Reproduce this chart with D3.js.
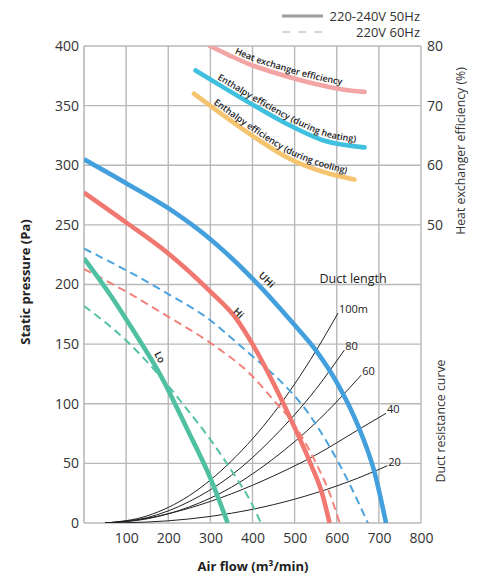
<!DOCTYPE html>
<html>
<head>
<meta charset="utf-8">
<script src="https://cdn.jsdelivr.net/npm/d3@7/dist/d3.min.js"></script>
<style>
  body { margin: 0; background: #fff; }
  text { font-family: 'Open Sans', 'DejaVu Sans', sans-serif; }
</style>
</head>
<body>
<div id="chart"></div>
<script>
// fan curves: [air flow (m3/min), static pressure (Pa)]
const uhi50 = [[0,305],[100,285],[200,264],[300,238],[400,205],[500,166],[550,145],[600,118],[650,82],[690,42],[717,0]];
const hi50  = [[0,277],[100,252],[200,226],[300,194],[360,172],[400,150],[450,117],[500,80],[540,48],[565,25],[583,0]];
const lo50  = [[0,222],[65,190],[116,162],[183,123],[246,78],[302,36],[341,0]];
const uhi60 = [[0,230],[100,212],[200,192],[300,170],[357,153],[393,142],[472,117],[520,98],[583,64],[630,33],[674,0]];
const hi60  = [[0,213],[100,194],[200,173],[300,151],[400,123],[450,103],[496,84],[551,50],[583,25],[607,0]];
const lo60  = [[0,182],[100,153],[183,122],[250,93],[300,70],[350,44],[400,15],[420,0]];

// efficiency curves: [air flow, efficiency %]
const heatEff    = [[299,80],[346,78.4],[401,76.7],[449,75.6],[528,74.0],[607,72.8],[666,72.3]];
const enthHeat   = [[265,75.9],[330,73.1],[409,69.8],[488,66.7],[567,64.2],[666,63]];
const enthCool   = [[261,72],[330,68.4],[409,64.5],[488,61.1],[567,58.9],[642,57.6]];

// duct resistance curves: [air flow, static pressure]
const ductNames = ['100m', '80', '60', '40', '20'];
const duct100 = [[50,0],[150,6],[250,23],[350,52],[450,92],[550,144],[603,176]];
const duct80  = [[50,0],[150,4.5],[250,18],[350,40],[450,72],[550,112],[618,145]];
const duct60  = [[50,0],[150,3.5],[250,13.5],[350,30],[450,54],[550,84],[658,124]];
const duct40  = [[50,0],[150,4],[250,12.5],[350,24.5],[450,39.5],[550,57],[650,78],[717,92]];
const duct20  = [[50,0],[150,0.8],[250,3.4],[350,8.2],[450,15.4],[550,25.2],[650,37.6],[720,48]];

// fan speed label anchors [air flow, pressure]
const speedLabels = [['UHi', 434, 204], ['Hi', 367, 176], ['Lo', 180, 139]];

const xTicks = [100, 200, 300, 400, 500, 600, 700, 800];
const yTicks = [0, 50, 100, 150, 200, 250, 300, 350, 400];
const effTicks = [50, 60, 70, 80];

const W = 485, H = 576;
const margin = { top: 46, right: 64, bottom: 53, left: 84 };
const width = W - margin.left - margin.right;
const height = H - margin.top - margin.bottom;

const svg = d3.select('#chart').append('svg')
  .attr('width', W).attr('height', H);

const g = svg.append('g').attr('transform', `translate(${margin.left},${margin.top})`);

const x = d3.scaleLinear().domain([0, 800]).range([0, width]);
const y = d3.scaleLinear().domain([0, 400]).range([height, 0]);
const yR = d3.scaleLinear().domain([0, 80]).range([height, 0]);

svg.append('defs').append('clipPath').attr('id', 'plot-clip')
  .append('rect').attr('width', width).attr('height', height);

// grid
const gridColor = '#b8b8b8';
g.append('g').selectAll('line').data(xTicks).enter().append('line')
  .attr('x1', d => x(d)).attr('x2', d => x(d))
  .attr('y1', 0).attr('y2', height)
  .attr('stroke', gridColor).attr('stroke-width', 1.4);
g.append('g').selectAll('line').data(yTicks.filter(d => d > 0)).enter().append('line')
  .attr('x1', 0).attr('x2', width)
  .attr('y1', d => y(d)).attr('y2', d => y(d))
  .attr('stroke', gridColor).attr('stroke-width', 1.4);
// frame: left and bottom
g.append('line').attr('x1', 0).attr('x2', 0).attr('y1', 0).attr('y2', height)
  .attr('stroke', gridColor).attr('stroke-width', 1.6);
g.append('line').attr('x1', 0).attr('x2', width).attr('y1', height).attr('y2', height)
  .attr('stroke', gridColor).attr('stroke-width', 1.6);

// axes
const styleAxis = sel => {
  sel.select('.domain').remove();
  sel.selectAll('text').attr('fill', '#333').style('font-size', '14px')
    .style('font-family', "'Open Sans', sans-serif");
};
g.append('g').call(d3.axisLeft(y).tickValues(yTicks).tickSize(0).tickPadding(5)).call(styleAxis);
g.append('g').attr('transform', `translate(0,${height})`)
  .call(d3.axisBottom(x).tickValues(xTicks).tickSize(0).tickPadding(10)).call(styleAxis);
g.append('g').attr('transform', `translate(${width},0)`)
  .call(d3.axisRight(yR).tickValues(effTicks).tickSize(0).tickPadding(6)).call(styleAxis);

// lines
const line = d3.line().x(d => x(d[0])).y(d => y(d[1])).curve(d3.curveMonotoneX);
const lineR = d3.line().x(d => x(d[0])).y(d => yR(d[1])).curve(d3.curveMonotoneX);

const plot = g.append('g').attr('clip-path', 'url(#plot-clip)');

// duct resistance curves
const ducts = [duct100, duct80, duct60, duct40, duct20];
ducts.forEach(function(d) {
  plot.append('path').attr('d', line(d))
    .attr('fill', 'none').attr('stroke', '#222').attr('stroke-width', 1);
});

// 60Hz dashed
const dashed = [[uhi60, '#4ba3de'], [hi60, '#f1837b'], [lo60, '#55c2a6']];
dashed.forEach(function(s) {
  plot.append('path').attr('d', line(s[0]))
    .attr('fill', 'none').attr('stroke', s[1]).attr('stroke-width', 2)
    .attr('stroke-dasharray', '8,5');
});

// 50Hz solid
const solid = [[uhi50, '#44a0dc'], [hi50, '#f07870'], [lo50, '#50c0a2']];
solid.forEach(function(s) {
  plot.append('path').attr('d', line(s[0]))
    .attr('fill', 'none').attr('stroke', s[1]).attr('stroke-width', 4.6);
});

// efficiency curves, labels follow the curve
const effs = [
  [heatEff, '#f3a5a5', 'Heat exchanger efficiency', 'p-heat', 27],
  [enthHeat, '#3fc0de', 'Enthalpy efficiency (during heating)', 'p-enth-h', 25],
  [enthCool, '#f6c46e', 'Enthalpy efficiency (during cooling)', 'p-enth-c', 24]
];
const defs = svg.select('defs');
const lineLabel = d3.line().x(d => x(d[0]) + margin.left).y(d => yR(d[1]) + margin.top - 4.5)
  .curve(d3.curveMonotoneX);
effs.forEach(function(s) {
  plot.append('path').attr('d', lineR(s[0]))
    .attr('fill', 'none').attr('stroke', s[1]).attr('stroke-width', 4.6)
    .attr('stroke-linecap', 'round');
  defs.append('path').attr('id', s[3]).attr('d', lineLabel(s[0]));
  svg.append('text')
    .style('font-size', '9px').style('font-weight', 600).attr('fill', '#222')
    .append('textPath').attr('href', '#' + s[3]).attr('startOffset', s[4])
    .text(s[2]);
});

// fan speed labels
const angles = { UHi: 45, Hi: 45, Lo: 62 };
speedLabels.forEach(function(l) {
  g.append('text')
    .attr('transform', `translate(${x(l[1])},${y(l[2])}) rotate(${angles[l[0]]})`)
    .attr('text-anchor', 'middle').attr('dy', '0.35em')
    .style('font-size', '10px').style('font-weight', 600).attr('fill', '#222')
    .text(l[0]);
});

// duct length labels at curve ends
ducts.forEach(function(d, i) {
  const last = d[d.length - 1];
  g.append('text')
    .attr('x', x(last[0]) + 1).attr('y', y(last[1]))
    .style('font-size', '11px').attr('fill', '#222')
    .text(ductNames[i]);
});
g.append('text')
  .attr('x', x(559)).attr('y', y(201))
  .style('font-size', '12.5px').attr('fill', '#222')
  .text('Duct length');

// axis titles
svg.append('text')
  .attr('transform', 'translate(25,282) rotate(-90)')
  .attr('text-anchor', 'middle').attr('dy', '0.35em')
  .style('font-size', '13px').style('font-weight', 'bold').attr('fill', '#222')
  .text('Static pressure (Pa)');
svg.append('text')
  .attr('x', 253).attr('y', 571)
  .attr('text-anchor', 'middle')
  .style('font-size', '13px').style('font-weight', 'bold').attr('fill', '#222')
  .text('Air flow (m³/min)');
svg.append('text')
  .attr('transform', 'translate(461,151) rotate(-90)')
  .attr('text-anchor', 'middle').attr('dy', '0.35em')
  .style('font-size', '12.3px').attr('fill', '#333')
  .text('Heat exchanger efficiency (%)');
svg.append('text')
  .attr('transform', 'translate(441,421) rotate(-90)')
  .attr('text-anchor', 'middle').attr('dy', '0.35em')
  .style('font-size', '12.3px').attr('fill', '#333')
  .text('Duct resistance curve');

// legend
const legend = svg.append('g');
legend.append('line').attr('x1', 282).attr('x2', 323).attr('y1', 16).attr('y2', 16)
  .attr('stroke', '#9c9c9c').attr('stroke-width', 3);
legend.append('line').attr('x1', 282).attr('x2', 323).attr('y1', 32).attr('y2', 32)
  .attr('stroke', '#c8c8c8').attr('stroke-width', 1.5).attr('stroke-dasharray', '8,8');
legend.append('text').attr('x', 420).attr('y', 20.5).attr('text-anchor', 'end')
  .style('font-size', '13px').attr('fill', '#333').text('220-240V 50Hz');
legend.append('text').attr('x', 420).attr('y', 37).attr('text-anchor', 'end')
  .style('font-size', '13px').attr('fill', '#333').text('220V 60Hz');
</script>
</body>
</html>
